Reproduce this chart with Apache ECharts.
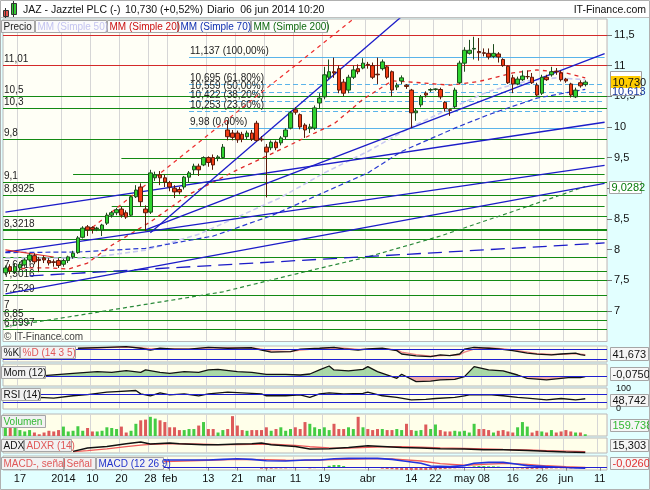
<!DOCTYPE html>
<html><head><meta charset="utf-8">
<script src="https://cdn.jsdelivr.net/npm/echarts@6/dist/echarts.min.js"></script>
<style>html,body{margin:0;padding:0;background:#fff}#c{width:650px;height:490px}</style>
</head><body><div id="c"></div>
<script>
// ---------------- DATA ----------------
const holidays = ['2013-12-25','2013-12-26','2014-01-01','2014-04-18','2014-04-21','2014-05-01'];
const tickLabels = [[3,'17'],[12,'2014'],[18,'10'],[24,'20'],[30,'28'],[34,'feb'],[42,'13'],[48,'21'],[54,'mar'],[60,'11'],[66,'19'],[75,'abr'],[84,'14'],[89,'22'],[95,'may'],[99,'08'],[105,'16'],[111,'26'],[116,'jun'],[123,'11']];

const opens  = [7.62,7.72,7.64,7.70,7.75,7.83,7.90,7.84,7.86,7.82,7.80,7.82,7.76,7.82,7.88,7.95,8.20,8.37,8.36,8.34,8.32,8.43,8.56,8.60,8.66,8.60,8.56,8.86,9.02,8.66,8.61,9.17,9.22,9.17,9.09,9.00,8.98,9.02,9.18,9.30,9.36,9.38,9.50,9.50,9.49,9.50,9.95,9.90,9.90,9.88,9.84,9.90,10.06,9.80,9.67,9.66,9.75,9.74,9.84,9.98,10.28,10.20,10.03,9.97,9.98,10.39,10.49,10.81,10.90,10.95,10.73,10.60,10.81,10.95,10.96,11.02,11.00,10.86,10.95,10.98,10.90,10.65,10.75,10.68,10.60,10.23,10.36,10.55,10.60,10.61,10.61,10.40,10.28,10.33,10.72,11.04,11.20,11.27,11.23,11.21,11.20,11.15,11.19,11.10,10.99,10.80,10.70,10.77,10.82,10.81,10.68,10.55,10.81,10.85,10.91,10.88,10.78,10.70,10.49,10.72,10.69];
const closes = [7.70,7.65,7.72,7.76,7.83,7.91,7.80,7.82,7.83,7.78,7.79,7.74,7.82,7.88,7.94,8.19,8.35,8.32,8.33,8.35,8.40,8.56,8.60,8.65,8.56,8.53,8.86,8.97,8.78,8.60,9.25,9.22,9.17,9.10,9.02,8.94,8.94,9.18,9.25,9.36,9.30,9.50,9.42,9.38,9.51,9.67,9.84,9.83,9.79,9.80,9.90,9.80,9.78,9.79,9.59,9.75,9.66,9.82,9.95,10.23,10.24,10.00,9.95,10.00,10.31,10.47,10.85,10.90,10.88,10.60,10.55,10.81,10.93,10.90,11.04,11.01,10.81,10.85,11.06,10.81,10.60,10.68,10.80,10.66,10.23,10.26,10.49,10.52,10.61,10.62,10.49,10.30,10.27,10.60,11.04,11.25,11.25,11.28,11.21,11.20,11.14,11.20,11.14,11.00,10.72,10.70,10.78,10.83,10.82,10.72,10.52,10.81,10.77,10.90,10.90,10.77,10.75,10.52,10.60,10.67,10.73];
const lows   = [7.58,7.60,7.60,7.66,7.72,7.80,7.76,7.63,7.78,7.74,7.72,7.70,7.72,7.78,7.85,7.93,8.18,8.22,8.26,8.30,8.22,8.40,8.52,8.56,8.52,8.50,8.54,8.84,8.70,8.30,8.58,9.12,9.05,9.02,8.95,8.84,8.90,8.98,9.10,9.22,9.20,9.36,9.35,9.30,9.44,9.48,9.78,9.78,9.74,9.75,9.80,9.77,9.76,9.76,8.85,9.62,9.62,9.70,9.80,9.96,10.20,9.96,9.82,9.90,9.95,10.30,10.45,10.78,10.80,10.55,10.50,10.55,10.78,10.86,10.94,10.95,10.78,10.70,10.92,10.78,10.50,10.60,10.70,10.62,9.98,10.10,10.32,10.48,10.57,10.59,10.45,10.25,10.18,10.30,10.70,10.90,11.18,11.10,11.08,11.15,11.10,11.12,11.05,10.98,10.70,10.55,10.68,10.75,10.78,10.70,10.50,10.52,10.75,10.82,10.85,10.74,10.72,10.48,10.47,10.64,10.66];
const highs  = [7.74,7.76,7.78,7.80,7.86,7.94,7.94,7.88,7.90,7.86,7.84,7.86,7.85,7.90,7.98,8.22,8.38,8.40,8.38,8.37,8.42,8.60,8.63,8.68,8.70,8.64,8.88,9.05,9.08,8.72,9.30,9.27,9.28,9.22,9.12,9.05,9.02,9.20,9.28,9.40,9.40,9.52,9.52,9.55,9.54,9.72,10.11,9.95,9.94,9.92,9.94,9.95,10.10,9.85,9.72,9.78,9.78,9.85,9.98,10.26,10.32,10.22,10.06,10.05,10.35,10.55,10.98,11.10,11.13,11.00,10.78,10.85,11.00,11.02,11.12,11.06,11.05,11.13,11.10,11.00,10.92,10.72,10.84,10.70,10.62,10.30,10.52,10.58,10.63,10.63,10.64,10.42,10.30,10.64,11.08,11.30,11.42,11.47,11.45,11.28,11.28,11.35,11.22,11.12,11.00,10.85,10.82,10.92,10.92,10.88,10.72,10.85,10.85,10.98,10.96,10.92,10.80,10.72,10.64,10.76,10.76];

// moving averages read at points [index, value]
const mm20  = [[0,7.66],[5,7.70],[9,7.70],[13,7.68],[17,7.78],[22,8.07],[30,8.45],[38,8.90],[48,9.30],[58,9.67],[64,9.90],[68,10.05],[74,10.45],[80,10.75],[86,10.72],[92,10.68],[98,10.74],[105,10.88],[110,10.93],[116,10.88],[120,10.80]];
const mm50  = [[0,7.86],[17,7.86],[29,7.99],[40,8.25],[50,8.60],[57,8.85],[66,9.25],[75,9.60],[84,10.00],[92,10.30],[100,10.58],[108,10.75],[114,10.80],[120,10.77]];
const mm70  = [[0,7.95],[15,7.96],[29,8.02],[43,8.22],[55,8.55],[65,8.90],[75,9.25],[82,9.60],[93,9.98],[100,10.20],[110,10.47],[120,10.613]];
const mm200 = [[0,6.74],[13,6.90],[45,7.31],[60,7.60],[75,7.88],[90,8.22],[105,8.62],[120,9.028]];

// trend lines [index, price] end points
const trendBlue = [[[0,7.957],[124,9.374]],[[0,7.275],[124,9.078]],[[0,8.609],[124,10.076]],[[29,8.319],[124,11.195]],[[30,8.273],[82,11.80]]];
const trendBlueDash = [[5,7.569],[124,8.107]];
const trendRedDash = [[18,8.36],[72,11.76]];
const trendRedSolid = [[0,7.993],[10,7.878]];

// horizontal levels
const greenLevels = [10.5,10.3,9.8,9.1,8.8925,8.54,8.3218,8.17,7.87,7.64,7.5016,7.2529,7.0,6.85,6.6997];
const greenLabels = ['10,5','10,3','9,8','9,1','8,8925','','8,3218','','','7,6416','7,5016','7,2529','7','6,85','6,6997'];
const greenPartial = [[24,9.49],[14,9.23],[22,8.71]];
const redLevels = [11.5,11.01];
const redLabels = ['','11,01'];
const fibLevels = [11.137,10.695,10.559,10.422,10.253,9.98];
const fibLabels = ['11,137 (100,00%)','10,695 (61,80%)','10,559 (50,00%)','10,422 (38,20%)','10,253 (23,60%)','9,98 (0,00%)'];

// indicators [index, value]
const stochK = [[15,86],[21,92],[25,96],[28,86],[30,75],[32,86],[35,80],[38,80],[42,92],[46,86],[51,89],[53,75],[55,62],[59,65],[61,80],[65,86],[68,92],[70,82],[73,75],[75,82],[78,86],[81,71],[82,50],[85,38],[88,34],[90,44],[92,40],[94,50],[95,80],[97,92],[100,86],[102,82],[105,71],[108,55],[110,49],[113,44],[115,50],[118,55],[119,46],[120,41.673]];
const stochD = [[15,84],[21,90],[25,93],[28,90],[30,82],[32,82],[35,82],[38,80],[42,88],[46,88],[51,88],[53,80],[55,70],[59,65],[61,74],[65,83],[68,89],[70,86],[73,79],[75,80],[78,84],[81,76],[82,62],[85,46],[88,36],[90,40],[92,41],[94,45],[95,62],[97,80],[100,88],[102,85],[105,76],[108,62],[110,52],[113,47],[115,48],[118,52],[119,49],[120,46]];
const mom = [[8,0.04],[14,0.30],[19,0.48],[22,0.41],[25,0.59],[28,0.41],[29,0.67],[32,0.41],[34,0.30],[37,0.48],[40,0.41],[42,0.67],[44,0.74],[48,0.48],[51,0.41],[54,0.19],[58,0.19],[61,0.11],[63,0.22],[65,0.67],[67,1.11],[68,0.67],[71,0.56],[74,0.74],[75,1.04],[77,0.48],[80,-0.07],[81,-0.26],[82,0.19],[85,-0.63],[88,-0.56],[90,-0.44],[93,-0.37],[95,-0.07],[97,1.04],[100,0.67],[103,0.56],[106,0.11],[108,-0.26],[112,-0.44],[115,-0.26],[117,-0.15],[119,-0.19],[120,-0.075]];
const rsi = [[0,46],[2,46],[7,55],[10,52],[14,63],[17,68],[21,80],[23,83],[27,88],[28,72],[30,63],[32,77],[34,67],[37,72],[40,63],[42,72],[46,80],[49,77],[53,72],[54,63],[58,63],[61,67],[63,55],[65,72],[67,77],[70,72],[74,74],[75,80],[78,63],[81,55],[84,43],[87,46],[89,50],[93,55],[95,63],[96,67],[100,68],[103,63],[106,55],[108,52],[112,43],[115,50],[118,43],[119,46],[120,48.742]];
const volume = [800,864,736,544,416,544,320,160,320,480,416,544,864,416,480,896,480,736,416,416,480,800,736,640,864,320,480,1120,1440,1504,1760,1600,1440,1280,800,800,544,544,640,640,960,1280,640,640,320,544,640,1824,960,544,480,544,544,544,800,480,640,800,480,640,800,640,1280,1120,800,640,800,544,1120,640,640,800,640,1760,800,640,544,640,640,544,544,640,544,1120,544,480,544,1056,640,1056,544,416,416,480,416,480,320,1120,640,640,544,320,480,544,416,320,800,1280,864,320,480,416,320,544,320,416,544,416,320,320,159.738];
const adx  = [[14,17.5],[17,23.6],[21,26.6],[25,31.5],[28,34.6],[30,30.9],[34,32.7],[36,31.5],[41,29.6],[44,29.6],[48,30.9],[51,31.5],[53,32.7],[55,29.6],[60,26.6],[63,21.7],[67,22.4],[71,24.8],[75,27.8],[78,26.6],[82,24.8],[86,23.6],[90,22.4],[95,21.7],[99,20.5],[103,20.5],[108,19.3],[112,17.5],[116,16.2],[120,15.303]];
const adxr = [[14,17],[17,19],[21,22],[25,26],[28,29],[30,30.5],[34,31.5],[36,31.5],[41,30.5],[44,30],[48,30],[51,30.5],[53,31],[55,30.5],[60,28.5],[63,26],[67,24],[71,23.6],[75,25],[78,26],[82,26],[86,25],[90,24],[95,23],[99,22],[103,21],[108,20],[112,19],[116,18],[120,17]];
const macd = [[0,-0.02],[3,-0.025],[8,0.0],[15,0.06],[22,0.15],[28,0.22],[33,0.288],[42,0.288],[45,0.313],[48,0.338],[51,0.313],[54,0.263],[58,0.251],[62,0.288],[65,0.288],[68,0.338],[71,0.351],[75,0.351],[77,0.351],[80,0.313],[82,0.263],[86,0.163],[88,0.063],[92,0.038],[95,0.075],[97,0.163],[100,0.2],[103,0.2],[106,0.125],[108,0.075],[112,0.038],[115,0.013],[118,-0.013],[120,-0.026]];
const macdSignal = [[0,-0.01],[8,-0.01],[15,0.02],[22,0.09],[28,0.16],[33,0.23],[42,0.28],[48,0.31],[54,0.30],[58,0.28],[62,0.275],[68,0.30],[75,0.33],[80,0.33],[86,0.25],[90,0.15],[95,0.09],[100,0.13],[104,0.16],[108,0.12],[112,0.07],[116,0.035],[120,0.01]];
const macdHist = [[53,-0.04],[54,-0.04],[55,-0.04],[56,-0.035],[57,-0.03],[58,-0.03],[59,-0.02],[60,-0.02],[63,-0.03],[64,-0.02],[67,0.07],[68,0.1],[69,0.1],[70,0.06],[78,-0.04],[79,-0.05],[80,-0.06],[81,-0.07],[82,-0.09],[83,-0.1],[84,-0.1],[85,-0.1],[86,-0.1],[87,-0.09],[88,-0.08],[89,-0.07],[90,-0.06],[91,-0.05],[92,-0.04],[93,-0.03],[94,-0.02],[96,0.03],[97,0.05],[98,0.06],[99,0.06],[100,0.05],[101,0.05],[102,0.04],[103,0.02],[105,-0.02],[106,-0.03],[107,-0.04],[108,-0.05],[109,-0.05],[110,-0.05],[111,-0.04],[112,-0.04],[113,-0.03],[114,-0.03],[115,-0.03],[116,-0.02],[117,-0.03],[118,-0.02],[119,-0.02],[120,-0.02]];

// ---------------- BUILD ----------------
const N = 125;
const dates = [];
(function(){const hol=new Set(holidays);const d=new Date(Date.UTC(2013,11,12));
 while(dates.length<N){const wd=d.getUTCDay();const s=d.toISOString().slice(0,10);
  if(wd!==0&&wd!==6&&!hol.has(s))dates.push(s);d.setUTCDate(d.getUTCDate()+1);}})();
const F = '"Liberation Sans", Arial, sans-serif';
const labelIdx = new Map(tickLabels);
const isTick = (i)=>labelIdx.has(i);

const grids = [
  {top:19, height:322.5},
  {top:346, height:16},
  {top:364, height:22},
  {top:388, height:21},
  {top:414, height:22},
  {top:438, height:15},
  {top:456, height:14}
].map((g,i)=>Object.assign({left:3, right:43, show:true, backgroundColor: i===0?'#fffff6':'#ffffea', borderColor:'#b8b8b8', borderWidth:1}, g));

const xAxis = grids.map((g,i)=>({
  type:'category', gridIndex:i, data:dates, boundaryGap:true,
  axisLine:{show:false},
  axisTick:{show:i===6, interval:isTick, length:3, alignWithLabel:true, lineStyle:{color:'#888'}},
  axisLabel:{show:i===6, interval:isTick, formatter:(v,idx)=>labelIdx.get(idx)||'', color:'#111', fontSize:11, fontFamily:F, margin:3},
  splitLine:{show:true, interval:isTick, lineStyle:{color:'#d6d6d6', width:1}}
}));
const yr = [[6.5,11.76],[0,100],[-1.11,1.33],[0,100],[0,2020],[14.5,42],[-0.09,0.44]];
const yAxis = yr.map((r,i)=> i===0 ? {
  type:'value', gridIndex:0, position:'right', min:r[0], max:r[1], interval:0.5,
  axisLine:{show:false}, splitLine:{show:false},
  axisTick:{show:true, length:5, lineStyle:{color:'#777'}},
  axisLabel:{showMinLabel:false, showMaxLabel:false, formatter:v=>String(v).replace('.',','), color:'#111', fontSize:11, fontFamily:F, margin:7}
} : {type:'value', gridIndex:i, min:r[0], max:r[1], show:false});

const series = [];
function line(data, gi, color, width, type, extra){
  series.push(Object.assign({type:'line', xAxisIndex:gi, yAxisIndex:gi, data, showSymbol:false, symbol:'none', silent:true, animation:false,
    lineStyle:{color, width, type:type||'solid'}, z:3}, extra||{}));
  return series.length-1;
}
function hline(v,color,lab,width,type){
  return {yAxis:v, lineStyle:{color, width:width||1, type:type||'solid'},
    label:{show:!!lab, formatter:lab||'', position:'insideStartTop', distance:[1,1], color:'#222', fontSize:10, fontFamily:F}};
}
const mlData = [];
redLevels.forEach((v,i)=>mlData.push(hline(v,'#d42a2a',redLabels[i],1.2)));
greenLevels.forEach((v,i)=>mlData.push(hline(v,'#138a13',greenLabels[i], v===8.3218?2.2:1.2)));
greenPartial.forEach(p=>mlData.push([{coord:[p[0],p[1]], lineStyle:{color:'#138a13',width:1.2,type:'solid'}, label:{show:false}},{coord:[N-1,p[1]]}]));
fibLevels.forEach((v,i)=>{
  const solid = (i===0||i===fibLevels.length-1);
  mlData.push([{coord:[38,v], lineStyle:{color:'#5ab4ea',width:1.2,type:solid?'solid':[5,3]},
    label:{show:true, formatter:fibLabels[i], position:'insideStartTop', distance:[1,1], color:'#222', fontSize:10, fontFamily:F}},{coord:[N-1,v]}]);
});

// moving averages & trend lines (under candles)
line(mm200,0,'#2a8a3a',1.2,[4,3]);
line(mm50,0,'#c9c9f2',1.6,[5,3]);
line(mm70,0,'#2a3ad0',1.2,[5,3]);
line(mm20,0,'#e02828',1.3,[4,4]);
trendBlue.forEach(t=>line(t,0,'#1c1cc8',1.3));
line(trendBlueDash,0,'#1c1cc8',1.3,[14,7]);
line(trendRedDash,0,'#ee3030',1.2,[4,4]);
line(trendRedSolid,0,'#e03030',1.2);

series.push({type:'candlestick', xAxisIndex:0, yAxisIndex:0, animation:false, silent:true, barWidth:4, z:5,
  data: opens.map((o,i)=>[o, closes[i], lows[i], highs[i]]),
  itemStyle:{color:'#2fd42f', color0:'#f23c14', borderColor:'#1d4d1d', borderColor0:'#5a1a0a', borderWidth:1},
  markLine:{silent:true, symbol:['none','none'], animation:false, data:mlData, z:2}
});

// %K / %D
const blueLevel = (vals)=>({silent:true, symbol:['none','none'], animation:false, label:{show:false}, lineStyle:{color:'#2020d0', width:1.2, type:'solid'}, data:vals.map(v=>({yAxis:v}))});
line(stochD,1,'#f08080',1.3);
line(stochK,1,'#111',1.3,'solid',{markLine:blueLevel([80,20])});
// Momentum (green above zero, red below via a hard-stop gradient at the zero line)
const zeroY = 364 + 22*(1.33/2.44);
const zf = (zeroY-364)/22;
line(mom,2,'#000',0,'solid',{areaStyle:{opacity:0.9, color:{type:'linear', x:0, y:364, x2:0, y2:386, global:true,
  colorStops:[{offset:0,color:'#9fd49f'},{offset:zf,color:'#9fd49f'},{offset:zf,color:'#eea0a0'},{offset:1,color:'#eea0a0'}]}},
  lineStyle:{width:0, opacity:0}, z:2});
line(mom,2,'#111',1.3,'solid',{markLine:blueLevel([0])});
// RSI
line(rsi,3,'#111',1.3,'solid',{markLine:blueLevel([70,30])});
// Volume
series.push({type:'bar', xAxisIndex:4, yAxisIndex:4, barWidth:3, silent:true, animation:false,
  data: volume.map((v,i)=>({value:v, itemStyle:{color: closes[i]>=opens[i] ? '#44cc44' : '#dd5a5a'}}))});
// ADX
line(adxr,5,'#ee5a5a',1.3);
line(adx,5,'#111',1.5);
// MACD
series.push({type:'bar', xAxisIndex:6, yAxisIndex:6, barWidth:3, silent:true, animation:false,
  data: macdHist.map(p=>({value:p, itemStyle:{color: p[1]>=0 ? '#44cc44' : '#e06060'}}))});
line(macdSignal,6,'#ee5a5a',1.3);
line(macd,6,'#2233dd',1.6,'solid',{markLine:blueLevel([0])});

// ---------------- GRAPHICS ----------------
const G = [];
function rect(x,y,w,h,fill,stroke,z){G.push({type:'rect', z:z||100, silent:true, shape:{x,y,width:w,height:h}, style:{fill, stroke:stroke||null, lineWidth:1}});}
function text(x,y,t,color,size,align,z){G.push({type:'text', z:z||101, silent:true, style:{x,y,text:t,fill:color,font:(size||11)+'px '+F, align:align||'left', verticalAlign:'middle'}});}
function box(x,y,w,h,t,color,fill,size){rect(x+0.5,y+0.5,w,h,fill||'#f2f2f2','#a6a6a6');text(x+2.5,y+h/2+1,t,color,size||10);}

// backgrounds
rect(0,17,650,473,'#e2ffff',null,-10);
G.push({type:'line', z:-9, silent:true, shape:{x1:0,y1:17.5,x2:650,y2:17.5}, style:{stroke:'#c0c0c0', lineWidth:1}});
// header icon
G.push({type:'line', z:101, silent:true, shape:{x1:5.5,y1:8,x2:5.5,y2:18}, style:{stroke:'#333'}});
rect(3.5,10.5,5,6,'#e8504a','#333');
G.push({type:'line', z:101, silent:true, shape:{x1:13.5,y1:1,x2:13.5,y2:17}, style:{stroke:'#333'}});
rect(11.5,3.5,5,11,'#33cc33','#333');
// header text
text(23,10,'JAZ - Jazztel PLC (-)','#111',10.5);
text(125,10,'10,730 (+0,52%)','#111',10.5);
text(207,10,'Diario  06 jun 2014 10:20','#111',10.5);
text(646,10,'IT-Finance.com','#111',10.5,'right');
// legend boxes
box(1,20,33,12,'Precio','#222','#f4f4f4');
box(35,20,71,12,'MM (Simple 50)','#c4c4f0','#fbfbfb');
box(107,20,70,12,'MM (Simple 20)','#cc1010','#fbfbfb');
box(178,20,72,12,'MM (Simple 70)','#1030b0','#fbfbfb');
box(251,20,76,12,'MM (Simple 200)','#106a10','#fbfbfb');
// copyright
text(4,337,'© IT-Finance.com','#444',10);
// indicator labels
box(1,346,18,12,'%K','#111');
box(20,346,55,12,'%D (14 3 5)','#e05858');
box(1,366,44,12,'Mom (12)','#111');
box(1,388,39,12,'RSI (14)','#111');
box(1,415,44,12,'Volumen','#33b833');
box(1,439,22,12,'ADX','#111');
box(24,439,47,12,'ADXR (14)','#e05858');
box(1,457,62,12,'MACD-, señal','#e05858',9.5);
box(64,457,31,12,'Señal','#e05858',9.5);
box(96,457,67,12,'MACD (12 26 9)','#2233cc',9.5);
// right value boxes
rect(610.5,71.5,31,24,'#ffffff','#a0a0a0');
text(612,92,'10,613','#1a3aa0',11);
rect(611,76,29.5,12,'#ffcc00',null);
text(612.5,82.5,'10,730','#111',11);
box(609,181,32,12,'9,0282','#087a08','#ffffff',11);
box(610,347,38,13,'41,673','#111','#f6f6f6',11);
box(610,367,38,13,'-0,0750','#111','#f6f6f6',11);
text(616,389,'100','#111',9);
box(610,394,38,12,'48,742','#111','#f6f6f6',11);
text(616,409,'0','#111',9);
box(610,419,38,12,'159.738','#33b833','#f6f6f6',11);
box(610,439,38,12,'15,303','#111','#f6f6f6',11);
box(610,457,38,12,'-0,0260','#e03030','#f6f6f6',11);
rect(0.5,0.5,649,489,null,'#b0b0b0',120);

const chart = echarts.init(document.getElementById('c'), null, {renderer:'canvas'});
chart.setOption({
  animation:false,
  backgroundColor:'#ffffff',
  grid:grids, xAxis, yAxis, series,
  graphic:{elements:G}
});
</script>
</body></html>
